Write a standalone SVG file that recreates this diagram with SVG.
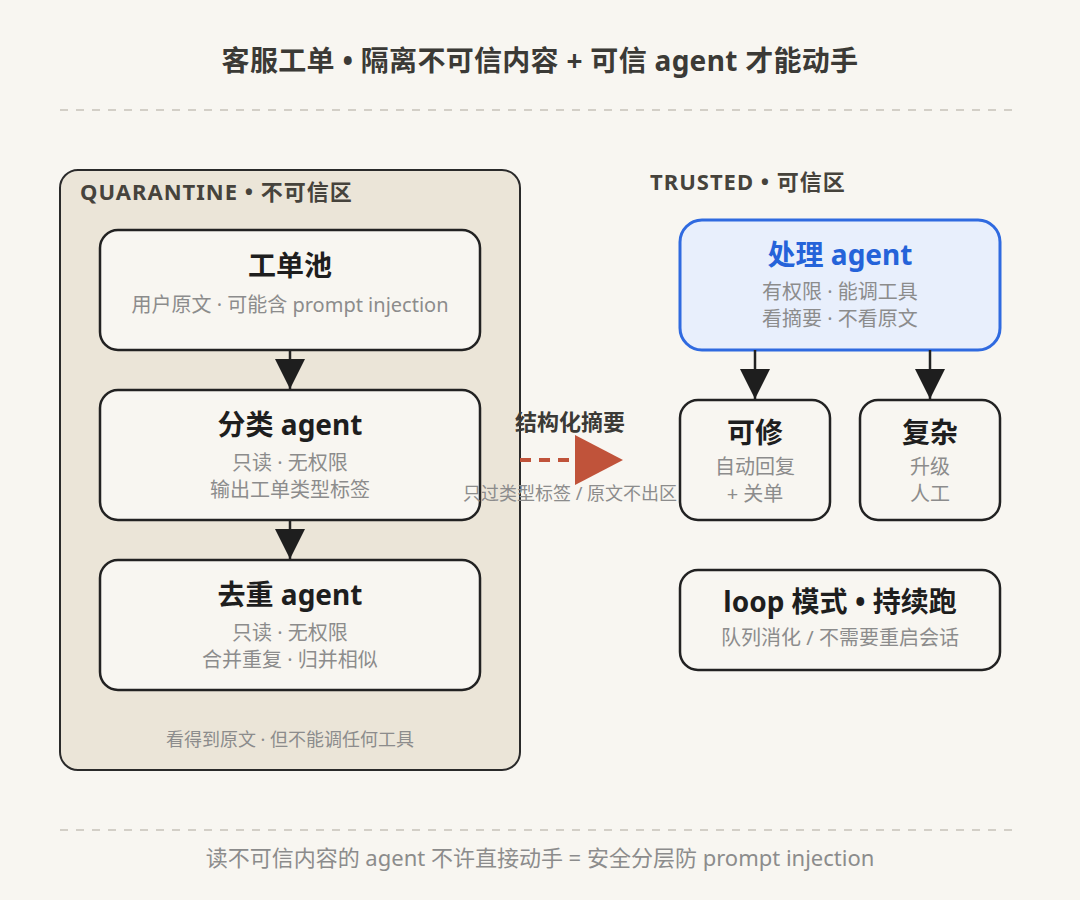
<svg xmlns="http://www.w3.org/2000/svg" width="1080" height="900" viewBox="0 0 1080 900">
<defs>
<style>
text{font-family:"Noto Sans","Noto Sans CJK SC",sans-serif;}
.title{font-size:28px;font-weight:700;fill:#3b3a36;text-anchor:middle;letter-spacing:0.3px;}
.zone{font-size:22px;font-weight:700;fill:#46433c;letter-spacing:1px;}
.node{fill:#f8f6f1;stroke:#222;stroke-width:2.5;}
.nt{font-size:28px;font-weight:700;fill:#1e1e1e;text-anchor:middle;}
.ns{font-size:20px;fill:#8c8c8c;text-anchor:middle;}
.note{font-size:18px;fill:#8c8c8c;text-anchor:middle;}
.sep{stroke:#d3cfc7;stroke-width:2;stroke-dasharray:8 8;fill:none;}
.edge{stroke:#222;stroke-width:2.5;fill:none;}
</style>
<marker id="ah" viewBox="0 0 30 30" refX="30" refY="15" markerWidth="30" markerHeight="30" markerUnits="userSpaceOnUse" orient="auto">
<path d="M0,0 L30,15 L0,30 Z" fill="#1e1e1e"/>
</marker>
<marker id="ahr" viewBox="0 0 48 50" refX="0" refY="25" markerWidth="48" markerHeight="50" markerUnits="userSpaceOnUse" orient="auto">
<path d="M0,0 L48,25 L0,50 Z" fill="#c0533a"/>
</marker>
</defs>
<rect width="1080" height="900" fill="#f8f6f1"/>
<text class="title" x="540" y="71">客服工单 • 隔离不可信内容 + 可信 agent 才能动手</text>
<line class="sep" x1="60" y1="110" x2="1020" y2="110"/>

<g id="quarantine">
<rect x="60" y="170" width="460" height="600" rx="18" fill="#ebe5d8" stroke="#2a2a2a" stroke-width="2"/>
<text class="zone" x="80" y="200">QUARANTINE • 不可信区</text>
<text class="note" x="290" y="746">看得到原文 · 但不能调任何工具</text>
</g>

<g id="pool">
<rect class="node" x="100" y="230" width="380" height="120" rx="18"/>
<text class="nt" x="290" y="276">工单池</text>
<text class="ns" x="290" y="312">用户原文 · 可能含 prompt injection</text>
</g>
<g id="classify">
<rect class="node" x="100" y="390" width="380" height="130" rx="18"/>
<text class="nt" x="290" y="435">分类 agent</text>
<text class="ns" x="290" y="470">只读 · 无权限</text>
<text class="ns" x="290" y="497">输出工单类型标签</text>
</g>
<g id="dedup">
<rect class="node" x="100" y="560" width="380" height="130" rx="18"/>
<text class="nt" x="290" y="605">去重 agent</text>
<text class="ns" x="290" y="640">只读 · 无权限</text>
<text class="ns" x="290" y="667">合并重复 · 归并相似</text>
</g>

<g id="trusted-label">
<text class="zone" x="650" y="190">TRUSTED • 可信区</text>
</g>
<g id="handler">
<rect x="680" y="220" width="320" height="130" rx="22" fill="#e8effc" stroke="#2f6ae0" stroke-width="3"/>
<text class="nt" x="840" y="265" style="fill:#2563d9">处理 agent</text>
<text class="ns" x="840" y="299">有权限 · 能调工具</text>
<text class="ns" x="840" y="326">看摘要 · 不看原文</text>
</g>
<g id="fixable">
<rect class="node" x="680" y="400" width="150" height="120" rx="18"/>
<text class="nt" x="755" y="443">可修</text>
<text class="ns" x="755" y="474">自动回复</text>
<text class="ns" x="755" y="501">+ 关单</text>
</g>
<g id="complex">
<rect class="node" x="860" y="400" width="140" height="120" rx="18"/>
<text class="nt" x="930" y="443">复杂</text>
<text class="ns" x="930" y="474">升级</text>
<text class="ns" x="930" y="501">人工</text>
</g>
<g id="loop">
<rect class="node" x="680" y="570" width="320" height="100" rx="18"/>
<text class="nt" x="840" y="612">loop 模式 • 持续跑</text>
<text class="ns" x="840" y="645">队列消化 / 不需要重启会话</text>
</g>

<g id="connectors">
<line class="edge" x1="290" y1="350" x2="290" y2="389" marker-end="url(#ah)"/>
<line class="edge" x1="290" y1="520" x2="290" y2="559" marker-end="url(#ah)"/>
<line class="edge" x1="755" y1="350" x2="755" y2="399" marker-end="url(#ah)"/>
<line class="edge" x1="930" y1="350" x2="930" y2="399" marker-end="url(#ah)"/>
<line x1="520" y1="460" x2="575" y2="460" stroke="#c0533a" stroke-width="4" stroke-dasharray="11 8" marker-end="url(#ahr)"/>
<text x="570" y="430" style="font-size:22px;font-weight:700;fill:#3b3a36;text-anchor:middle">结构化摘要</text>
<text class="note" x="570" y="500">只过类型标签 / 原文不出区</text>
</g>

<line class="sep" x1="60" y1="830" x2="1020" y2="830"/>
<text x="540" y="866" style="font-size:22px;fill:#8c8c8c;text-anchor:middle">读不可信内容的 agent 不许直接动手 = 安全分层防 prompt injection</text>
</svg>
